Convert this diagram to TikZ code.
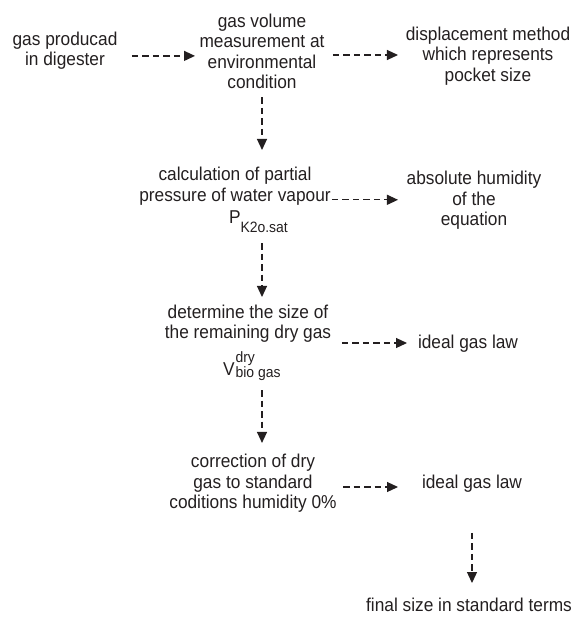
\documentclass[tikz,border=0pt]{standalone}
\usepackage{fontspec}
\setmainfont[FakeStretch=0.93]{Liberation Sans}
\usetikzlibrary{arrows.meta,calc}
\definecolor{ink}{RGB}{35,31,32}
\newcommand{\subtxt}[1]{{\fontsize{15}{15}\selectfont #1}}
\begin{document}
\begin{tikzpicture}[x=1pt,y=-1pt,
  lbl/.style={inner sep=0pt,outer sep=0pt,align=center,text=ink,
    font=\fontsize{18.6}{20.5}\selectfont},
  arr/.style={draw=ink,line width=1.2pt,dash pattern=on 6.5pt off 4pt,
    -{Triangle[length=11pt,width=10pt]}}]
\useasboundingbox (0,0) rectangle (580,621);
% nodes
\node[lbl] (n1) at (65,50.9) {gas producad\\in digester};
\node[lbl] (n2) at (262,51.2) {gas volume\\measurement at\\environmental\\condition};
\node[lbl] (n3) at (488,56.1) {displacement method\\which represents\\pocket size};
\node[lbl] (n4) at (235,186.4) {calculation of partial\\pressure of water vapour};
\node[lbl,anchor=base west] (n4p) at (229,223) {P\raisebox{-9pt}{\subtxt{K2o.sat}}};
\node[lbl] (abs) at (474,200.6) {absolute humidity\\of the\\equation};
\node[lbl] (n5) at (248,323.9) {determine the size of\\the remaining dry gas};
\node[lbl,anchor=base west] (n5v) at (223,375) {V\kern1pt\rlap{\raisebox{13pt}{\subtxt{dry}}}\raisebox{-2pt}{\subtxt{bio gas}}};
\node[lbl,anchor=base] (ig1) at (468,348) {ideal gas law};
\node[lbl] (n6) at (253,483.6) {correction of dry\\gas to standard\\coditions humidity 0\%};
\node[lbl,anchor=base] (ig2) at (472,488) {ideal gas law};
\node[lbl,anchor=base] (fin) at (469,611) {final size in standard terms};
% connectors
\draw[arr] ($(n1.east)+(14.5,5)$) -- ($(n2.west |- n1.east)+(-4.5,5)$);
\draw[arr] ($(n2.east)+(8.5,3.8)$) -- ($(n3.west |- n2.east)+(-7.8,3.8)$);
\draw[arr] ($(n2.south)+(0,8.5)$) -- ($(n2.south |- n4.north)+(0,-17.5)$);
\draw[arr] ($(n4.east)+(1.3,13.4)$) -- ($(abs.west |- n4.east)+(-8.7,13.4)$);
\draw[arr] ($(n2.south |- n4p.south)+(0,11)$) -- ($(n2.south |- n5.north)+(0,-8)$);
\draw[arr] ($(n5.east)+(10.8,19.1)$) -- ($(ig1.west |- n5.east)+(-11,19.1)$);
\draw[arr] ($(n2.south |- n5v.south)+(0,10)$) -- ($(n2.south |- n6.north)+(0,-11.5)$);
\draw[arr] ($(n6.east)+(6.4,3.4)$) -- ($(ig2.west |- n6.east)+(-24,3.4)$);
\draw[arr] ($(ig2.south)+(0,41)$) -- ($(ig2.south |- fin.north)+(0,-14.5)$);
\end{tikzpicture}
\end{document}
